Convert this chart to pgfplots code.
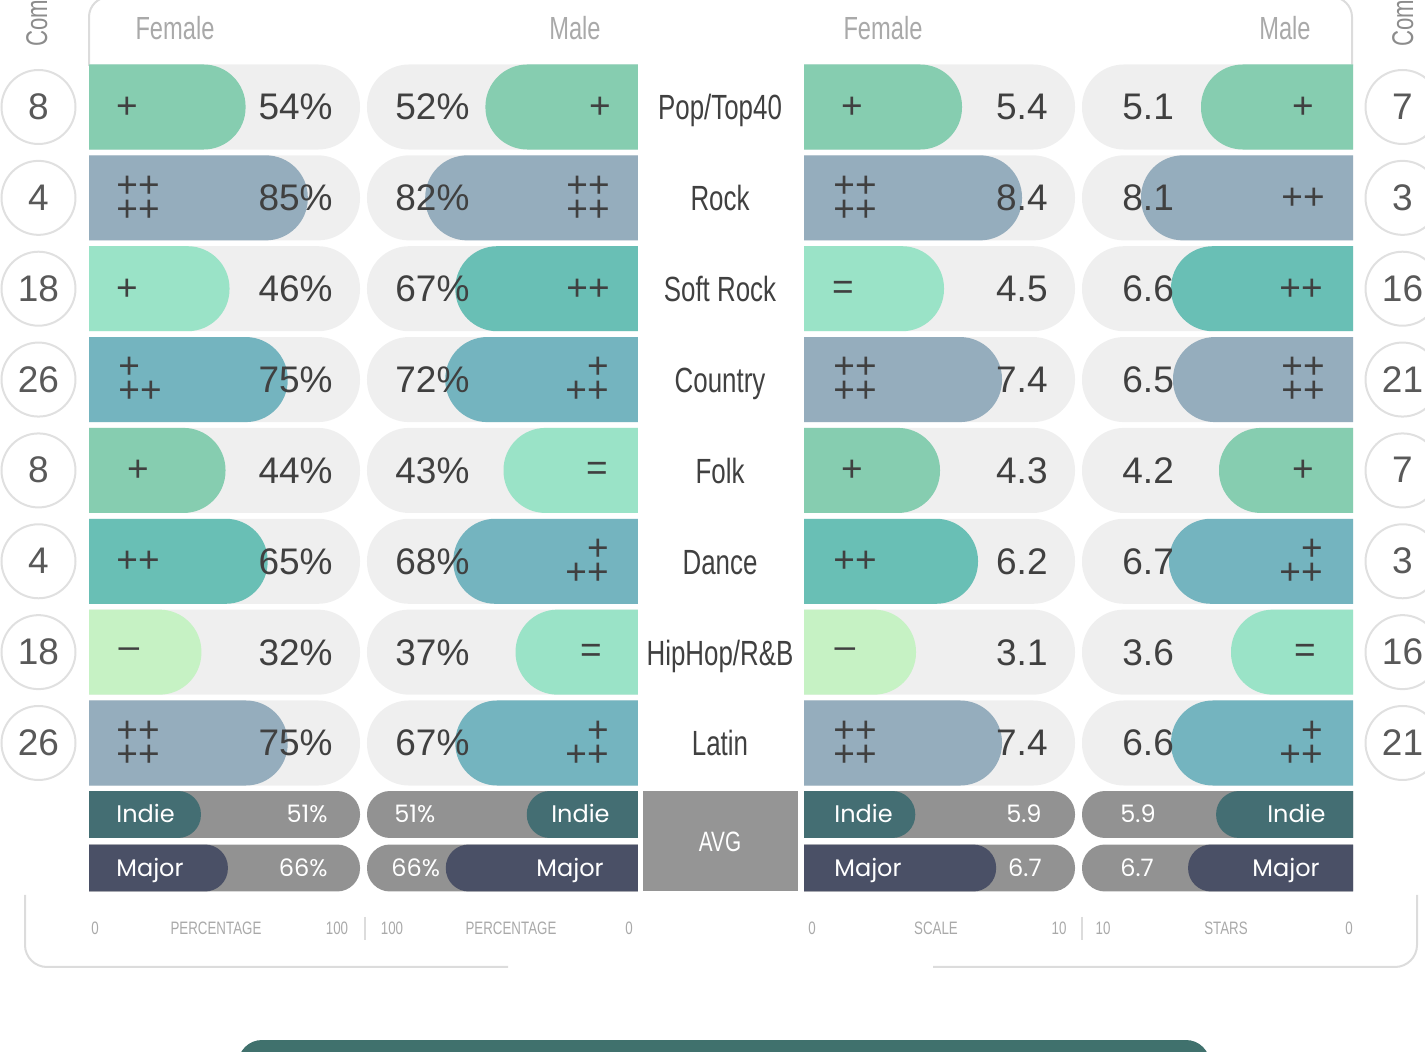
\documentclass[border=0pt]{standalone}
\usepackage{pgfplots}
\pgfplotsset{compat=1.18}
\usepackage{fontspec}
\setmainfont{Liberation Sans}
\newfontfamily\cond[FakeStretch=0.74]{Liberation Sans}
\newfontfamily\popp{Poppins}
\definecolor{cGreen}{HTML}{86CDB0}
\definecolor{cBlue}{HTML}{95ADBD}
\definecolor{cMint}{HTML}{9AE3C7}
\definecolor{cTeal}{HTML}{69BFB5}
\definecolor{cTB}{HTML}{74B4BF}
\definecolor{cLight}{HTML}{C6F2C4}
\definecolor{cBg}{HTML}{EFEFEF}
\definecolor{cIndie}{HTML}{446E73}
\definecolor{cMajor}{HTML}{4A5066}
\definecolor{cAvg}{HTML}{929292}
\definecolor{cBox}{HTML}{959595}
\definecolor{cText}{HTML}{404040}
\definecolor{cHead}{HTML}{A9A9A9}
\definecolor{cFrame}{HTML}{DCDCDC}
\definecolor{cCirc}{HTML}{E0E0E0}
\definecolor{cFoot}{HTML}{40716D}
% pill: color, start, end, ylo, yhi
\newcommand{\pl}[5]{\addplot[fill=#1, draw=none, rounded corners=21pt, forget plot] coordinates {(#2,#4) (#3,#4) (#3,#5) (#2,#5)} -- cycle;}
\newcommand{\pa}[5]{\addplot[fill=#1, draw=none, rounded corners=11.5pt, forget plot] coordinates {(#2,#4) (#3,#4) (#3,#5) (#2,#5)} -- cycle;}
\pgfplotsset{panel/.style={scale only axis, width=135.5pt, height=363.43pt, hide axis, ymin=0.5, ymax=8.5, y dir=reverse},
 avgpanel/.style={scale only axis, width=135.5pt, height=53.5pt, hide axis, ymin=0.5, ymax=2.5, y dir=reverse}}
\tikzset{num/.style={inner sep=0, text=cText, font=\fontsize{18.5}{18.5}\selectfont},
 sym/.style={inner sep=0, text=cText, font=\fontsize{18.5}{12}\selectfont},
 genre/.style={inner sep=0, text=cText, anchor=base, font=\cond\fontsize{17.5}{17.5}\selectfont},
 avgt/.style={inner sep=0, text=white, font=\popp\fontsize{12}{12}\selectfont},
 foot/.style={inner sep=0, text=cHead, anchor=base, font=\cond\fontsize{9}{9}\selectfont},
 head/.style={inner sep=0, text=cHead, anchor=base, font=\cond\fontsize{16}{16}\selectfont}}
\begin{document}
\begin{tikzpicture}[x=0.5pt,y=-0.5pt]
\useasboundingbox (0,0) rectangle (1425,1052);
\coordinate (P1) at (89,61.57);
\coordinate (P2) at (638,61.57);
\coordinate (P3) at (804,61.57);
\coordinate (P4) at (1353,61.57);
\coordinate (A1) at (89,787.75);
\coordinate (A2) at (638,787.75);
\coordinate (A3) at (804,787.75);
\coordinate (A4) at (1353,787.75);
% frames
\draw[cFrame, line width=1pt, rounded corners=10pt] (89,66) -- (89,-3) -- (1352,-3) -- (1352,66);
\draw[cFrame, line width=1pt, rounded corners=11pt] (25,895) -- (25,967) -- (508,967);
\draw[cFrame, line width=1pt, rounded corners=11pt] (933,967) -- (1417,967) -- (1417,895);
% ---------- Female percentage
\begin{axis}[panel, at={(P1)}, anchor=north west, xmin=-24, xmax=111]
\pl{cBg}{-200}{111}{0.532}{1.468}\pl{cBg}{-200}{111}{1.532}{2.468}
\pl{cBg}{-200}{111}{2.532}{3.468}\pl{cBg}{-200}{111}{3.532}{4.468}
\pl{cBg}{-200}{111}{4.532}{5.468}\pl{cBg}{-200}{111}{5.532}{6.468}
\pl{cBg}{-200}{111}{6.532}{7.468}\pl{cBg}{-200}{111}{7.532}{8.468}
\pl{cGreen}{-200}{54}{0.532}{1.468}
\pl{cBlue}{-200}{85}{1.532}{2.468}
\pl{cMint}{-200}{46}{2.532}{3.468}
\pl{cTB}{-200}{75}{3.532}{4.468}
\pl{cGreen}{-200}{44}{4.532}{5.468}
\pl{cTeal}{-200}{65}{5.532}{6.468}
\pl{cLight}{-200}{32}{6.532}{7.468}
\pl{cBlue}{-200}{75}{7.532}{8.468}
\end{axis}
% ---------- Male percentage
\begin{axis}[panel, at={(P2)}, anchor=north east, x dir=reverse, xmin=-24, xmax=111]
\pl{cBg}{-200}{111}{0.532}{1.468}\pl{cBg}{-200}{111}{1.532}{2.468}
\pl{cBg}{-200}{111}{2.532}{3.468}\pl{cBg}{-200}{111}{3.532}{4.468}
\pl{cBg}{-200}{111}{4.532}{5.468}\pl{cBg}{-200}{111}{5.532}{6.468}
\pl{cBg}{-200}{111}{6.532}{7.468}\pl{cBg}{-200}{111}{7.532}{8.468}
\pl{cGreen}{-200}{52}{0.532}{1.468}
\pl{cBlue}{-200}{82}{1.532}{2.468}
\pl{cTeal}{-200}{67}{2.532}{3.468}
\pl{cTB}{-200}{72}{3.532}{4.468}
\pl{cMint}{-200}{43}{4.532}{5.468}
\pl{cTB}{-200}{68}{5.532}{6.468}
\pl{cMint}{-200}{37}{6.532}{7.468}
\pl{cTB}{-200}{67}{7.532}{8.468}
\end{axis}
% ---------- Female scale
\begin{axis}[panel, at={(P3)}, anchor=north west, xmin=-2.5, xmax=11.05]
\pl{cBg}{-20}{11.05}{0.532}{1.468}\pl{cBg}{-20}{11.05}{1.532}{2.468}
\pl{cBg}{-20}{11.05}{2.532}{3.468}\pl{cBg}{-20}{11.05}{3.532}{4.468}
\pl{cBg}{-20}{11.05}{4.532}{5.468}\pl{cBg}{-20}{11.05}{5.532}{6.468}
\pl{cBg}{-20}{11.05}{6.532}{7.468}\pl{cBg}{-20}{11.05}{7.532}{8.468}
\pl{cGreen}{-20}{5.4}{0.532}{1.468}
\pl{cBlue}{-20}{8.4}{1.532}{2.468}
\pl{cMint}{-20}{4.5}{2.532}{3.468}
\pl{cBlue}{-20}{7.4}{3.532}{4.468}
\pl{cGreen}{-20}{4.3}{4.532}{5.468}
\pl{cTeal}{-20}{6.2}{5.532}{6.468}
\pl{cLight}{-20}{3.1}{6.532}{7.468}
\pl{cBlue}{-20}{7.4}{7.532}{8.468}
\end{axis}
% ---------- Male stars
\begin{axis}[panel, at={(P4)}, anchor=north east, x dir=reverse, xmin=-2.5, xmax=11.05]
\pl{cBg}{-20}{11.05}{0.532}{1.468}\pl{cBg}{-20}{11.05}{1.532}{2.468}
\pl{cBg}{-20}{11.05}{2.532}{3.468}\pl{cBg}{-20}{11.05}{3.532}{4.468}
\pl{cBg}{-20}{11.05}{4.532}{5.468}\pl{cBg}{-20}{11.05}{5.532}{6.468}
\pl{cBg}{-20}{11.05}{6.532}{7.468}\pl{cBg}{-20}{11.05}{7.532}{8.468}
\pl{cGreen}{-20}{5.1}{0.532}{1.468}
\pl{cBlue}{-20}{8.1}{1.532}{2.468}
\pl{cTeal}{-20}{6.6}{2.532}{3.468}
\pl{cBlue}{-20}{6.5}{3.532}{4.468}
\pl{cGreen}{-20}{4.2}{4.532}{5.468}
\pl{cTB}{-20}{6.7}{5.532}{6.468}
\pl{cMint}{-20}{3.6}{6.532}{7.468}
\pl{cTB}{-20}{6.6}{7.532}{8.468}
\end{axis}
% ---------- AVG rows
\begin{axis}[avgpanel, at={(A1)}, anchor=north west, xmin=-11.2, xmax=139.4]
\pa{cAvg}{-300}{139.4}{0.561}{1.439}\pa{cAvg}{-300}{139.4}{1.561}{2.439}
\pa{cIndie}{-300}{51}{0.561}{1.439}
\pa{cMajor}{-300}{66}{1.561}{2.439}
\end{axis}
\begin{axis}[avgpanel, at={(A2)}, anchor=north east, x dir=reverse, xmin=30.4, xmax=80.6]
\pa{cAvg}{-100}{80.6}{0.561}{1.439}\pa{cAvg}{-100}{80.6}{1.561}{2.439}
\pa{cIndie}{-100}{51}{0.561}{1.439}
\pa{cMajor}{-100}{66}{1.561}{2.439}
\end{axis}
\begin{axis}[avgpanel, at={(A3)}, anchor=north west, xmin=4.8, xmax=7.48]
\pa{cAvg}{-5}{7.48}{0.561}{1.439}\pa{cAvg}{-5}{7.48}{1.561}{2.439}
\pa{cIndie}{-5}{5.9}{0.561}{1.439}
\pa{cMajor}{-5}{6.7}{1.561}{2.439}
\end{axis}
\begin{axis}[avgpanel, at={(A4)}, anchor=north east, x dir=reverse, xmin=1.99, xmax=9.73]
\pa{cAvg}{-20}{9.73}{0.561}{1.439}\pa{cAvg}{-20}{9.73}{1.561}{2.439}
\pa{cIndie}{-20}{5.9}{0.561}{1.439}
\pa{cMajor}{-20}{6.7}{1.561}{2.439}
\end{axis}
% AVG box
\fill[cBox] (643,791) rectangle (798,891);
\node[inner sep=0, text=white, anchor=base, font=\cond\fontsize{14}{14}\selectfont] at (720,852) {AVG};
% AVG texts
\node[avgt, anchor=base west] at (116,823) {Indie};
\node[avgt, anchor=base east] at (328,823) {51\%};
\node[avgt, anchor=base west] at (116,876.5) {Major};
\node[avgt, anchor=base east] at (328,876.5) {66\%};
\node[avgt, anchor=base west] at (394,823) {51\%};
\node[avgt, anchor=base east] at (610,823) {Indie};
\node[avgt, anchor=base west] at (391,876.5) {66\%};
\node[avgt, anchor=base east] at (604,876.5) {Major};
\node[avgt, anchor=base west] at (834,823) {Indie};
\node[avgt, anchor=base east] at (1042,823) {5.9};
\node[avgt, anchor=base west] at (834,876.5) {Major};
\node[avgt, anchor=base east] at (1042,876.5) {6.7};
\node[avgt, anchor=base west] at (1120,823) {5.9};
\node[avgt, anchor=base east] at (1326,823) {Indie};
\node[avgt, anchor=base west] at (1120,876.5) {6.7};
\node[avgt, anchor=base east] at (1320,876.5) {Major};
% circles and row labels
\foreach \y/\l/\r/\g/\fp/\mp/\fs/\ms in {107/8/7/Pop\slash Top40/54/52/5.4/5.1, 197.86/4/3/Rock/85/82/8.4/8.1, 288.71/18/16/Soft Rock/46/67/4.5/6.6, 379.57/26/21/Country/75/72/7.4/6.5, 470.43/8/7/Folk/44/43/4.3/4.2, 561.29/4/3/Dance/65/68/6.2/6.7, 652.14/18/16/HipHop\slash R\&B/32/37/3.1/3.6, 743/26/21/Latin/75/67/7.4/6.6}{
 \draw[cCirc, line width=1pt, fill=white] (38.5,\y) circle [radius=37];
 \draw[cCirc, line width=1pt, fill=white] (1402.5,\y) circle [radius=37];
 \node[num, anchor=base, text=black!65] at (38.5,\y+12.5) {\l};
 \node[num, anchor=base, text=black!65] at (1402.5,\y+12.5) {\r};
 \node[genre] at (720,\y+13) {\g};
 \node[num, anchor=base east] at (333,\y+13) {\fp\%};
 \node[num, anchor=base west] at (395,\y+13) {\mp\%};
 \node[num, anchor=base east] at (1048,\y+13) {\fs};
 \node[num, anchor=base west] at (1122,\y+13) {\ms};
}
% symbols: female percentage
\node[sym] at (127,108) {+};
\node[sym, align=center] at (138,199) {++\\++};
\node[sym] at (127,290) {+};
\node[sym, align=left] at (140,380) {+\\++};
\node[sym] at (138,471) {+};
\node[sym] at (138,562) {++};
\node[sym] at (129,653) {–};
\node[sym, align=center] at (138,744) {++\\++};
% male percentage
\node[sym] at (600,108) {+};
\node[sym, align=center] at (588,199) {++\\++};
\node[sym] at (588,290) {++};
\node[sym, align=right] at (587,380) {+\\++};
\node[sym] at (597,471) {=};
\node[sym, align=right] at (587,562) {+\\++};
\node[sym] at (591,653) {=};
\node[sym, align=right] at (587,744) {+\\++};
% female scale
\node[sym] at (852,108) {+};
\node[sym, align=center] at (855,199) {++\\++};
\node[sym] at (843,290) {=};
\node[sym, align=center] at (855,380) {++\\++};
\node[sym] at (852,471) {+};
\node[sym] at (855,562) {++};
\node[sym] at (845,653) {–};
\node[sym, align=center] at (855,744) {++\\++};
% male stars
\node[sym] at (1303,108) {+};
\node[sym] at (1303,199) {++};
\node[sym] at (1301,290) {++};
\node[sym, align=center] at (1303,380) {++\\++};
\node[sym] at (1303,471) {+};
\node[sym, align=right] at (1301,562) {+\\++};
\node[sym] at (1305,653) {=};
\node[sym, align=right] at (1301,744) {+\\++};
% headers
\node[head] at (175,40) {Female};
\node[head] at (575,40) {Male};
\node[head] at (883,40) {Female};
\node[head] at (1285,40) {Male};
\node[inner sep=0, text=black!45, anchor=base west, rotate=90, font=\cond\fontsize{15}{15}\selectfont] at (47,47) {Com};
\node[inner sep=0, text=black!45, anchor=base west, rotate=90, font=\cond\fontsize{15}{15}\selectfont] at (1413,47) {Com};
% footer axis labels
\node[foot] at (95,935) {0};
\node[foot] at (216,935) {PERCENTAGE};
\node[foot] at (337,935) {100};
\node[foot] at (392,935) {100};
\node[foot] at (511,935) {PERCENTAGE};
\node[foot] at (629,935) {0};
\node[foot] at (812,935) {0};
\node[foot] at (936,935) {SCALE};
\node[foot] at (1059,935) {10};
\node[foot] at (1103,935) {10};
\node[foot] at (1226,935) {STARS};
\node[foot] at (1349,935) {0};
\draw[cFrame, line width=1pt] (365,917) -- (365,940);
\draw[cFrame, line width=1pt] (1082,917) -- (1082,940);
% bottom bar
\fill[cFoot, rounded corners=12pt] (238,1040) rectangle (1210,1140);
\end{tikzpicture}
\end{document}
